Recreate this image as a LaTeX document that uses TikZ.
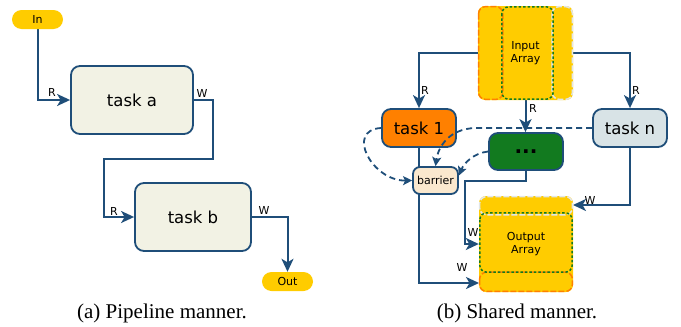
\documentclass[tikz,border=0pt]{standalone}
\usepackage{fontspec}
\setmainfont{DejaVu Sans}
\newfontfamily\capfont{Liberation Serif}
\usetikzlibrary{arrows.meta,backgrounds}
\definecolor{lineblue}{HTML}{1F4E79}
\definecolor{beige}{HTML}{F2F2E4}
\definecolor{yellowc}{HTML}{FFCC00}
\definecolor{orangec}{HTML}{FF8000}
\definecolor{greenc}{HTML}{127A1F}
\definecolor{grayc}{HTML}{D8E3E6}
\definecolor{barrierc}{HTML}{FAE8CE}
\definecolor{dashgray}{HTML}{E2E6E8}
\tikzset{
  taskbox/.style={draw=lineblue, line width=1.8pt, rounded corners=9pt, inner sep=0pt,
    font=\fontsize{16.5}{18}\selectfont},
  pill/.style={fill=yellowc, rounded corners=9.5pt, minimum width=51pt, minimum height=19pt,
    inner sep=0pt, font=\fontsize{11}{12}\selectfont},
  conn/.style={draw=lineblue, line width=2pt, -{Stealth[length=13pt,width=12pt,inset=3.5pt]}},
  dep/.style={draw=lineblue, line width=1.8pt, dash pattern=on 6pt off 4pt,
    -{Stealth[length=9pt,width=9pt,inset=2pt]}},
  lbl/.style={font=\fontsize{11}{12}\selectfont, inner sep=0pt},
  arr/.style={fill=yellowc, rounded corners=7pt, inner sep=0pt, align=center,
    font=\fontsize{11}{13.5}\selectfont},
  obord/.style={draw=orangec, line width=1.5pt, rounded corners=7pt, dash pattern=on 6pt off 2pt},
  gbord/.style={draw=greenc, line width=1.5pt, rounded corners=7pt, dash pattern=on 2.5pt off 2pt},
  ybord/.style={draw=dashgray, line width=1.5pt, rounded corners=7pt, dash pattern=on 6pt off 2pt},
  capt/.style={font=\capfont\fontsize{21}{24}\selectfont, inner sep=0pt}
}
\begin{document}
\begin{tikzpicture}[x=1pt,y=-1pt]
\useasboundingbox (0,0) rectangle (681,327);

% ---------- (a) pipeline ----------
\node[pill] (in) at (37.5,19.5) {In};
\node[taskbox, fill=beige, minimum width=122pt, minimum height=68pt] (taska) at (132,100) {task a};
\node[taskbox, fill=beige, minimum width=116pt, minimum height=68pt] (taskb) at (193,217) {task b};
\node[pill] (out) at (287.5,281.5) {Out};
\coordinate (ab1) at (213,159);
\coordinate (ab2) at (104,159);

\begin{scope}[on background layer]
\draw[conn] (in.south) |- (taska.west);
\draw[conn] (taska.east) -| (ab1) -- (ab2) |- (taskb.west);
\draw[conn] (taskb.east) -| (out.north);
\end{scope}
\node[lbl] (ra) at (52,92) {R};
\node[lbl] (wa) at (202,93) {W};
\node[lbl] (rb) at (114,211) {R};
\node[lbl] (wb) at (264,210) {W};

\node[capt] (capa) at (162,313) {(a) Pipeline manner.};

% ---------- (b) shared ----------
\node[arr, minimum width=95pt, minimum height=94pt] (inarr) at (525.5,53) {Input\\Array};
\draw[obord] ([shift={(0.8pt,-0.8pt)}]inarr.north west) rectangle ([shift={(25pt,0.8pt)}]inarr.south west);
\draw[ybord] ([shift={(-21pt,-0.8pt)}]inarr.north east) rectangle ([shift={(-0.8pt,0.8pt)}]inarr.south east);
\draw[gbord] ([shift={(24pt,-1pt)}]inarr.north west) rectangle ([shift={(-20pt,1pt)}]inarr.south east);

\node[arr, minimum width=94pt, minimum height=96pt] (outarr) at (526,244) {Output\\Array};
\draw[ybord] ([shift={(0.8pt,-0.8pt)}]outarr.north west) rectangle ([shift={(-0.8pt,-19pt)}]outarr.north east);
\draw[obord] ([shift={(0.8pt,20pt)}]outarr.south west) rectangle ([shift={(-0.8pt,0.8pt)}]outarr.south east);
\draw[gbord] ([shift={(1pt,-17pt)}]outarr.north west) rectangle ([shift={(-1pt,20pt)}]outarr.south east);

\node[taskbox, fill=orangec, minimum width=74pt, minimum height=38pt] (task1) at (419,128) {task 1};
\node[taskbox, fill=grayc, minimum width=74pt, minimum height=38pt] (taskn) at (630,128) {task n};
\node[taskbox, fill=greenc, minimum width=74pt, minimum height=37pt,
      font=\fontsize{20}{20}\bfseries] (dots) at (526,151.5) {...};
\node[taskbox, fill=barrierc, rounded corners=7pt, minimum width=45pt, minimum height=27pt,
      font=\fontsize{11}{12}\selectfont] (barrier) at (435.5,180.5) {barrier};

\coordinate (o1) at (479,283);
\coordinate (d1) at (465,181);
\coordinate (n1) at (573,205);
\coordinate (nbend) at (475,128);

\begin{scope}[on background layer]
\draw[conn] (inarr.west) -| (task1.north);
\draw[conn] (inarr.east) -| (taskn.north);
\draw[conn] (inarr.south) -- (inarr.south |- dots.north);
\draw[conn] (task1.south) |- (o1);
\draw[conn] (dots.south) |- (d1) |- (outarr.west);
\draw[conn] (taskn.south) |- (n1);
\end{scope}

\draw[dep] (task1.west) .. controls (345,130) and (372,181) .. (barrier.west);
\draw[dep] (taskn.west) -- (nbend) .. controls (448,129) and (438,148) .. (barrier.north);
\draw[dep] (dots.west) .. controls (474,153) and (464,163) .. (barrier.12);

\node[lbl] (r1) at (425,90) {R};
\node[lbl] (rn) at (636,90) {R};
\node[lbl] (rd) at (533,108) {R};
\node[lbl] (w1) at (462,267) {W};
\node[lbl] (wd) at (473,232) {W};
\node[lbl] (wn) at (590,200) {W};

\node[capt] (capb) at (517,313) {(b) Shared manner.};
\end{tikzpicture}
\end{document}
